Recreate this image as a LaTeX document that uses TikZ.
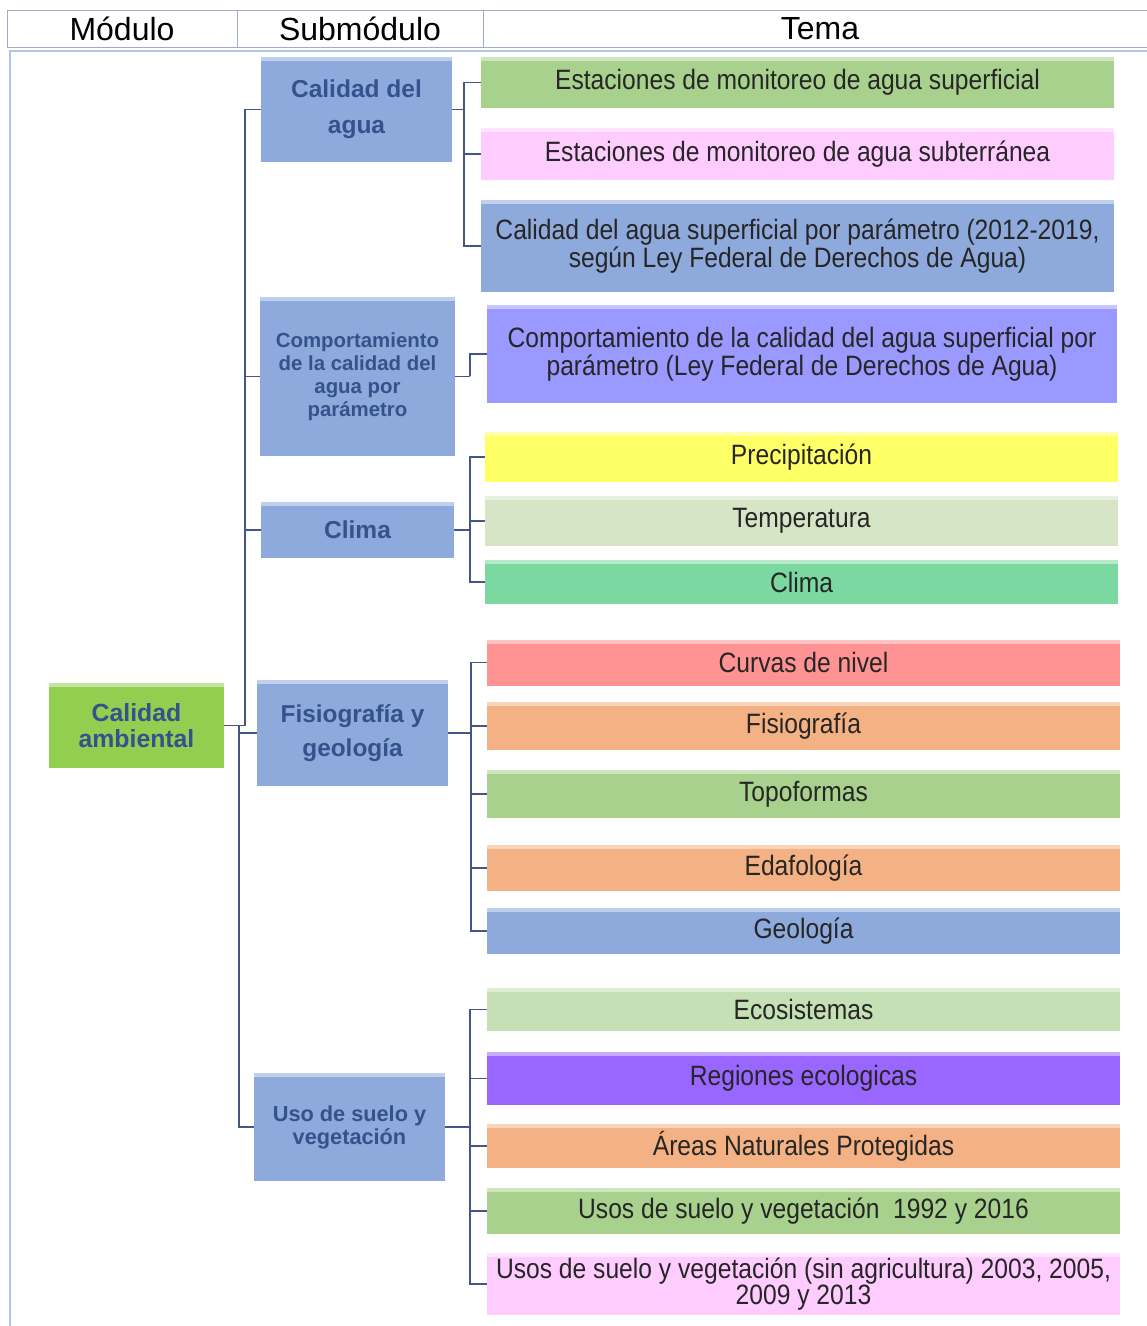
\documentclass[tikz,border=0pt]{standalone}
\usepackage{fontspec}
\setmainfont{Liberation Sans}
\newfontfamily\narrowsf[FakeStretch=0.88]{Liberation Sans}

\newlength\px
\setlength\px{0.75pt}

\definecolor{modgreen}{RGB}{146,206,80}
\definecolor{subblue}{RGB}{142,169,219}
\definecolor{subtext}{RGB}{52,82,140}
\definecolor{linkblue}{RGB}{68,86,136}
\definecolor{gridline}{RGB}{160,172,196}
\definecolor{framecol}{RGB}{176,198,230}
\definecolor{tgreen}{RGB}{169,209,142}
\definecolor{tpink}{RGB}{255,204,255}
\definecolor{tblue}{RGB}{142,169,219}
\definecolor{tlav}{RGB}{153,153,255}
\definecolor{tyellow}{RGB}{255,255,102}
\definecolor{tsage}{RGB}{214,229,198}
\definecolor{tsage2}{RGB}{197,224,180}
\definecolor{tmint}{RGB}{122,216,160}
\definecolor{tsalmon}{RGB}{255,146,146}
\definecolor{torange}{RGB}{244,177,131}
\definecolor{tpurple}{RGB}{153,102,255}

\begin{document}
\begin{tikzpicture}[
  x=\px, y=-\px,
  headcell/.style={draw=gridline, line width=0.6pt, minimum height=37\px, inner sep=0pt,
    font=\fontsize{24}{26}\selectfont},
  framebox/.style={draw=framecol, line width=1.2pt},
  box/.style={rectangle, inner sep=2pt, align=center,
    path picture={\fill[white, opacity=0.45] (path picture bounding box.north west)
      rectangle ([yshift=-4\px]path picture bounding box.north east);}},
  modbox/.style={box, fill=modgreen, text=subtext, minimum width=175\px, minimum height=85\px,
    font=\fontsize{18.6}{19.5}\selectfont\bfseries},
  subbox/.style={box, fill=subblue, text=subtext, minimum width=191\px},
  tema/.style={box, text=black!85, minimum width=633\px,
    font=\narrowsf\fontsize{21}{19.5}\selectfont},
  link/.style={draw=linkblue, line width=1.4pt}
]
  \useasboundingbox (0,0) rectangle (1146,1326);

  % === Header row ===
  \node[headcell, minimum width=230\px] (hmod) at (122,28.5) {Módulo};
  \node[headcell, minimum width=246\px] (hsub) at (360,28.5) {Submódulo};
  \node[headcell, minimum width=674\px] (htema) at (820,28.5) {Tema};
  \draw[framebox] (10,51) rectangle (1170,1345);

  % === Module ===
  \node[modbox] (mod) at (136.5,725.5) {Calidad\\ambiental};

  % === Submodules ===
  \node[subbox, minimum height=105\px, font=\fontsize{18.4}{27}\selectfont\bfseries]
    (cagua) at (356.5,109.5) {Calidad del\\agua};
  \node[subbox, minimum width=195\px, minimum height=159\px, font=\fontsize{15.3}{17.25}\selectfont\bfseries]
    (compo) at (357.5,376.5) {Comportamiento\\de la calidad del\\agua por\\parámetro};
  \node[subbox, minimum width=193\px, minimum height=56\px, font=\fontsize{18.4}{20}\selectfont\bfseries]
    (clima) at (357.5,530) {Clima};
  \node[subbox, minimum height=106\px, font=\fontsize{18.3}{26}\selectfont\bfseries]
    (fisgeo) at (352.5,733) {Fisiografía y\\geología};
  \node[subbox, minimum height=108\px, font=\fontsize{16.3}{17.25}\selectfont\bfseries]
    (usosv) at (349.5,1127) {Uso de suelo y\\vegetación};

  % === Themes ===
  % Calidad del agua
  \node[tema, fill=tgreen, minimum height=51\px] (esup) at (797.5,82.5) {Estaciones de monitoreo de agua superficial};
  \node[tema, fill=tpink, minimum height=52\px] (esub) at (797.5,154) {Estaciones de monitoreo de agua subterránea};
  \node[tema, fill=tblue, minimum height=92\px] (cpar) at (797.5,246)
    {Calidad del agua superficial por parámetro (2012-2019,\\según Ley Federal de Derechos de Agua)};
  % Comportamiento
  \node[tema, fill=tlav, minimum width=630\px, minimum height=98\px] (cfed) at (802,354)
    {Comportamiento de la calidad del agua superficial por\\parámetro (Ley Federal de Derechos de Agua)};
  % Clima
  \node[tema, fill=tyellow, minimum height=50\px] (prec) at (801.5,457) {Precipitación};
  \node[tema, fill=tsage, minimum height=50\px] (temp) at (801.5,521) {Temperatura};
  \node[tema, fill=tmint, minimum height=44\px] (clim) at (801.5,582) {Clima};
  % Fisiografia y geologia
  \node[tema, fill=tsalmon, minimum height=46\px] (curv) at (803.5,662.5) {Curvas de nivel};
  \node[tema, fill=torange, minimum height=48\px] (fisi) at (803.5,726) {Fisiografía};
  \node[tema, fill=tgreen, minimum height=48\px] (topo) at (803.5,794) {Topoformas};
  \node[tema, fill=torange, minimum height=46\px] (edaf) at (803.5,868) {Edafología};
  \node[tema, fill=tblue, minimum height=46\px] (geol) at (803.5,931) {Geología};
  % Uso de suelo y vegetacion
  \node[tema, fill=tsage2, minimum height=43\px] (ecos) at (803.5,1009.5) {Ecosistemas};
  \node[tema, fill=tpurple, minimum height=53\px] (regi) at (803.5,1078.5) {Regiones ecologicas};
  \node[tema, fill=torange, minimum height=44\px] (anp) at (803.5,1146) {Áreas Naturales Protegidas};
  \node[tema, fill=tgreen, minimum height=46\px] (usva) at (803.5,1211) {Usos de suelo y vegetación\ \ 1992 y 2016};
  \node[tema, fill=tpink, minimum height=62\px] (usvb) at (803.5,1284)
    {Usos de suelo y vegetación (sin agricultura) 2003, 2005,\\2009 y 2013};

  % === Connectors ===
  % module to submodules
  \draw[link] (mod.east) -- ++(15,0) coordinate (mlow) -- ++(6,0) coordinate (mup);
  \foreach \s in {cagua,compo,clima} \draw[link] (mup) |- (\s.west);
  \foreach \s in {fisgeo,usosv} \draw[link] (mlow) |- (\s.west);

  % submodules to themes
  \draw[link] (cagua.east) -- ++(12,0) coordinate (bagua);
  \foreach \t in {esup,esub,cpar} \draw[link] (bagua) |- (\t.west);
  \draw[link] (compo.east) -- ++(15,0) coordinate (bcomp);
  \draw[link] (bcomp) |- (cfed.west);
  \draw[link] (clima.east) -- ++(16,0) coordinate (bclim);
  \foreach \t in {prec,temp,clim} \draw[link] (bclim) |- (\t.west);
  \draw[link] (fisgeo.east) -- ++(23,0) coordinate (bfis);
  \foreach \t in {curv,fisi,topo,edaf,geol} \draw[link] (bfis) |- (\t.west);
  \draw[link] (usosv.east) -- ++(25,0) coordinate (busv);
  \foreach \t in {ecos,regi,anp,usva,usvb} \draw[link] (busv) |- (\t.west);
\end{tikzpicture}
\end{document}
